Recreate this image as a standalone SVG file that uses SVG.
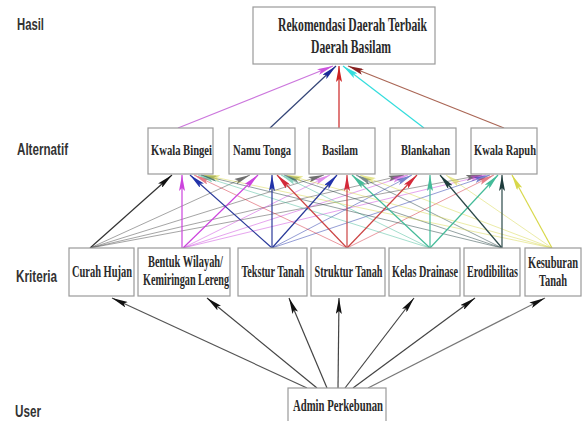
<svg xmlns="http://www.w3.org/2000/svg" width="588" height="421" viewBox="0 0 588 421">
<style>
.box{fill:#fff;stroke:#9a9a9a;stroke-width:1.2}
.t{font-family:"Liberation Serif","Times New Roman",serif;font-weight:bold;fill:#2a2a2a;text-anchor:middle}
.lbl{font-family:"Liberation Sans",Arial,sans-serif;font-weight:bold;font-size:16px;fill:#333}
.c{fill:none;stroke-width:1.2}
.w{fill:none;stroke-width:0.8;opacity:0.6}
</style>
<defs>
<marker id="mk" viewBox="0 0 16 6" refX="16" refY="3" markerWidth="16" markerHeight="6" markerUnits="userSpaceOnUse" orient="auto"><path d="M0,0 L16,3 L0,6 L3,3 z" fill="#111"/></marker>
<marker id="m2" viewBox="0 0 16 6" refX="16" refY="3" markerWidth="16" markerHeight="6" markerUnits="userSpaceOnUse" orient="auto"><path d="M0,0 L16,3 L0,6 L3,3 z" fill="#cc44dd"/></marker>
<marker id="m3" viewBox="0 0 16 6" refX="16" refY="3" markerWidth="16" markerHeight="6" markerUnits="userSpaceOnUse" orient="auto"><path d="M0,0 L16,3 L0,6 L3,3 z" fill="#2233aa"/></marker>
<marker id="m4" viewBox="0 0 16 6" refX="16" refY="3" markerWidth="16" markerHeight="6" markerUnits="userSpaceOnUse" orient="auto"><path d="M0,0 L16,3 L0,6 L3,3 z" fill="#d42a3a"/></marker>
<marker id="m5" viewBox="0 0 16 6" refX="16" refY="3" markerWidth="16" markerHeight="6" markerUnits="userSpaceOnUse" orient="auto"><path d="M0,0 L16,3 L0,6 L3,3 z" fill="#44bb99"/></marker>
<marker id="m6" viewBox="0 0 16 6" refX="16" refY="3" markerWidth="16" markerHeight="6" markerUnits="userSpaceOnUse" orient="auto"><path d="M0,0 L16,3 L0,6 L3,3 z" fill="#1f3d3d"/></marker>
<marker id="m7" viewBox="0 0 16 6" refX="16" refY="3" markerWidth="16" markerHeight="6" markerUnits="userSpaceOnUse" orient="auto"><path d="M0,0 L16,3 L0,6 L3,3 z" fill="#d8d84a"/></marker>
<marker id="ma1" viewBox="0 0 16 6" refX="16" refY="3" markerWidth="16" markerHeight="6" markerUnits="userSpaceOnUse" orient="auto"><path d="M0,0 L16,3 L0,6 L3,3 z" fill="#cc55dd"/></marker>
<marker id="ma2" viewBox="0 0 16 6" refX="16" refY="3" markerWidth="16" markerHeight="6" markerUnits="userSpaceOnUse" orient="auto"><path d="M0,0 L16,3 L0,6 L3,3 z" fill="#1a2a99"/></marker>
<marker id="ma3" viewBox="0 0 16 6" refX="16" refY="3" markerWidth="16" markerHeight="6" markerUnits="userSpaceOnUse" orient="auto"><path d="M0,0 L16,3 L0,6 L3,3 z" fill="#cc2222"/></marker>
<marker id="ma4" viewBox="0 0 16 6" refX="16" refY="3" markerWidth="16" markerHeight="6" markerUnits="userSpaceOnUse" orient="auto"><path d="M0,0 L16,3 L0,6 L3,3 z" fill="#33dddd"/></marker>
<marker id="ma5" viewBox="0 0 16 6" refX="16" refY="3" markerWidth="16" markerHeight="6" markerUnits="userSpaceOnUse" orient="auto"><path d="M0,0 L16,3 L0,6 L3,3 z" fill="#882222"/></marker>
</defs>
<rect width="588" height="421" fill="#fff"/>

<g id="labels">
<text class="lbl" x="17" y="30" textLength="27" lengthAdjust="spacingAndGlyphs">Hasil</text>
<text class="lbl" x="17" y="155" textLength="51" lengthAdjust="spacingAndGlyphs">Alternatif</text>
<text class="lbl" x="16" y="282" textLength="41" lengthAdjust="spacingAndGlyphs">Kriteria</text>
<text class="lbl" x="15" y="417" textLength="26" lengthAdjust="spacingAndGlyphs">User</text>
</g>

<g id="connectors">
<line class="c" stroke="#cc77dd" x1="178" y1="128" x2="333" y2="66" marker-end="url(#ma1)"/>
<line class="c" stroke="#334477" x1="270" y1="128" x2="336" y2="66" marker-end="url(#ma2)"/>
<line class="c" stroke="#cc2222" x1="339" y1="128" x2="339" y2="66" marker-end="url(#ma3)"/>
<line class="c" stroke="#33dddd" x1="424" y1="128" x2="343" y2="66" marker-end="url(#ma4)"/>
<line class="c" stroke="#aa6655" x1="504" y1="128" x2="348" y2="66" marker-end="url(#ma5)"/>

<line class="w" stroke="#444" x1="90" y1="248" x2="250" y2="175" marker-end="url(#mk)"/>
<line class="w" stroke="#444" x1="90" y1="248" x2="324" y2="175" marker-end="url(#mk)"/>
<line class="w" stroke="#444" x1="90" y1="248" x2="404" y2="175" marker-end="url(#mk)"/>
<line class="w" stroke="#444" x1="90" y1="248" x2="482" y2="175" marker-end="url(#mk)"/>
<line class="w" stroke="#cc44dd" x1="183" y1="248" x2="330" y2="175" marker-end="url(#m2)"/>
<line class="w" stroke="#cc44dd" x1="183" y1="248" x2="408" y2="175" marker-end="url(#m2)"/>
<line class="w" stroke="#cc44dd" x1="183" y1="248" x2="486" y2="175" marker-end="url(#m2)"/>
<line class="w" stroke="#2233aa" x1="272" y1="248" x2="412" y2="175" marker-end="url(#m3)"/>
<line class="w" stroke="#2233aa" x1="272" y1="248" x2="490" y2="175" marker-end="url(#m3)"/>
<line class="w" stroke="#d42a3a" x1="347" y1="248" x2="194" y2="175" marker-end="url(#m4)"/>
<line class="w" stroke="#d42a3a" x1="347" y1="248" x2="494" y2="175" marker-end="url(#m4)"/>
<line class="w" stroke="#44bb99" x1="430" y1="248" x2="198" y2="175" marker-end="url(#m5)"/>
<line class="w" stroke="#44bb99" x1="430" y1="248" x2="281" y2="175" marker-end="url(#m5)"/>
<line class="w" stroke="#1f3d3d" x1="502" y1="248" x2="201" y2="175" marker-end="url(#m6)"/>
<line class="w" stroke="#1f3d3d" x1="502" y1="248" x2="284" y2="175" marker-end="url(#m6)"/>
<line class="w" stroke="#1f3d3d" x1="502" y1="248" x2="356" y2="175" marker-end="url(#m6)"/>
<line class="w" stroke="#d8d84a" x1="552" y1="248" x2="204" y2="175" marker-end="url(#m7)"/>
<line class="w" stroke="#d8d84a" x1="552" y1="248" x2="287" y2="175" marker-end="url(#m7)"/>
<line class="w" stroke="#d8d84a" x1="552" y1="248" x2="360" y2="175" marker-end="url(#m7)"/>
<line class="w" stroke="#d8d84a" x1="552" y1="248" x2="446" y2="175" marker-end="url(#m7)"/>

<line class="c" stroke="#333" x1="90" y1="248" x2="172" y2="175" marker-end="url(#mk)"/>
<line class="c" stroke="#cc44dd" x1="182" y1="248" x2="182" y2="175" marker-end="url(#m2)"/>
<line class="c" stroke="#cc44dd" x1="183" y1="248" x2="258" y2="175" marker-end="url(#m2)"/>
<line class="c" stroke="#2a3a9a" x1="272" y1="248" x2="190" y2="175" marker-end="url(#m3)"/>
<line class="c" stroke="#2a3a9a" x1="272" y1="248" x2="272" y2="175" marker-end="url(#m3)"/>
<line class="c" stroke="#2a3a9a" x1="272" y1="248" x2="337" y2="175" marker-end="url(#m3)"/>
<line class="c" stroke="#cc4444" x1="347" y1="248" x2="277" y2="175" marker-end="url(#m4)"/>
<line class="c" stroke="#cc4444" x1="347" y1="248" x2="347" y2="175" marker-end="url(#m4)"/>
<line class="c" stroke="#cc4444" x1="347" y1="248" x2="417" y2="175" marker-end="url(#m4)"/>
<line class="c" stroke="#44bb99" x1="430" y1="248" x2="352" y2="175" marker-end="url(#m5)"/>
<line class="c" stroke="#44bb99" x1="430" y1="248" x2="430" y2="175" marker-end="url(#m5)"/>
<line class="c" stroke="#44bb99" x1="430" y1="248" x2="498" y2="175" marker-end="url(#m5)"/>
<line class="c" stroke="#2b4848" x1="502" y1="248" x2="440" y2="175" marker-end="url(#m6)"/>
<line class="c" stroke="#2b4848" x1="502" y1="248" x2="502" y2="175" marker-end="url(#m6)"/>
<line class="c" stroke="#d8d84a" x1="552" y1="248" x2="512" y2="175" marker-end="url(#m7)"/>

<line class="c" stroke="#555" x1="307" y1="388" x2="112" y2="298" marker-end="url(#mk)"/>
<line class="c" stroke="#444" x1="317" y1="388" x2="207" y2="298" marker-end="url(#mk)"/>
<line class="c" stroke="#444" x1="327" y1="388" x2="289" y2="298" marker-end="url(#mk)"/>
<line class="c" stroke="#444" x1="338" y1="388" x2="339" y2="298" marker-end="url(#mk)"/>
<line class="c" stroke="#444" x1="345" y1="388" x2="414" y2="298" marker-end="url(#mk)"/>
<line class="c" stroke="#444" x1="353" y1="388" x2="475" y2="298" marker-end="url(#mk)"/>
<line class="c" stroke="#777" x1="368" y1="388" x2="545" y2="298" marker-end="url(#mk)"/>
</g>

<g id="hasil">
<rect class="box" x="253" y="7" width="182" height="57"/>
<text class="t" x="352.5" y="31" font-size="18" textLength="149" lengthAdjust="spacingAndGlyphs">Rekomendasi Daerah Terbaik</text>
<text class="t" x="351" y="53" font-size="18" textLength="80" lengthAdjust="spacingAndGlyphs">Daerah Basilam</text>
</g>

<g id="alt-kwala-bingei">
<rect class="box" x="148" y="128" width="65" height="46"/>
<text class="t" x="181.5" y="155" font-size="15" textLength="61" lengthAdjust="spacingAndGlyphs">Kwala Bingei</text>
</g>
<g id="alt-namu-tonga">
<rect class="box" x="229" y="128" width="66" height="46"/>
<text class="t" x="262" y="155" font-size="15" textLength="58" lengthAdjust="spacingAndGlyphs">Namu Tonga</text>
</g>
<g id="alt-basilam">
<rect class="box" x="309" y="128" width="66" height="46"/>
<text class="t" x="340" y="155" font-size="15" textLength="36" lengthAdjust="spacingAndGlyphs">Basilam</text>
</g>
<g id="alt-blankahan">
<rect class="box" x="390" y="128" width="66" height="46"/>
<text class="t" x="425.5" y="155" font-size="15" textLength="49" lengthAdjust="spacingAndGlyphs">Blankahan</text>
</g>
<g id="alt-kwala-rapuh">
<rect class="box" x="471" y="128" width="66" height="46"/>
<text class="t" x="505" y="155" font-size="15" textLength="62" lengthAdjust="spacingAndGlyphs">Kwala Rapuh</text>
</g>

<g id="krit-curah-hujan">
<rect class="box" x="69" y="248" width="65" height="48"/>
<text class="t" x="102" y="277" font-size="16" textLength="60" lengthAdjust="spacingAndGlyphs">Curah Hujan</text>
</g>
<g id="krit-bentuk-wilayah">
<rect class="box" x="138" y="248" width="92" height="48"/>
<text class="t" x="185.5" y="267" font-size="16" textLength="75" lengthAdjust="spacingAndGlyphs">Bentuk Wilayah/</text>
<text class="t" x="186" y="285" font-size="16" textLength="86" lengthAdjust="spacingAndGlyphs">Kemiringan Lereng</text>
</g>
<g id="krit-tekstur-tanah">
<rect class="box" x="238" y="248" width="69" height="48"/>
<text class="t" x="273" y="277" font-size="16" textLength="63" lengthAdjust="spacingAndGlyphs">Tekstur Tanah</text>
</g>
<g id="krit-struktur-tanah">
<rect class="box" x="311" y="248" width="74" height="48"/>
<text class="t" x="348.5" y="277" font-size="16" textLength="68" lengthAdjust="spacingAndGlyphs">Struktur Tanah</text>
</g>
<g id="krit-kelas-drainase">
<rect class="box" x="389" y="248" width="71" height="48"/>
<text class="t" x="425" y="277" font-size="16" textLength="66" lengthAdjust="spacingAndGlyphs">Kelas Drainase</text>
</g>
<g id="krit-erodibilitas">
<rect class="box" x="464" y="248" width="56" height="48"/>
<text class="t" x="492.5" y="277" font-size="16" textLength="51" lengthAdjust="spacingAndGlyphs">Erodibilitas</text>
</g>
<g id="krit-kesuburan-tanah">
<rect class="box" x="525" y="248" width="56" height="48"/>
<text class="t" x="553" y="268" font-size="16" textLength="50" lengthAdjust="spacingAndGlyphs">Kesuburan</text>
<text class="t" x="553" y="286" font-size="16" textLength="28" lengthAdjust="spacingAndGlyphs">Tanah</text>
</g>

<g id="admin-perkebunan">
<rect class="box" x="288" y="388" width="98" height="40"/>
<text class="t" x="338" y="411" font-size="16" textLength="90" lengthAdjust="spacingAndGlyphs">Admin Perkebunan</text>
</g>
</svg>
